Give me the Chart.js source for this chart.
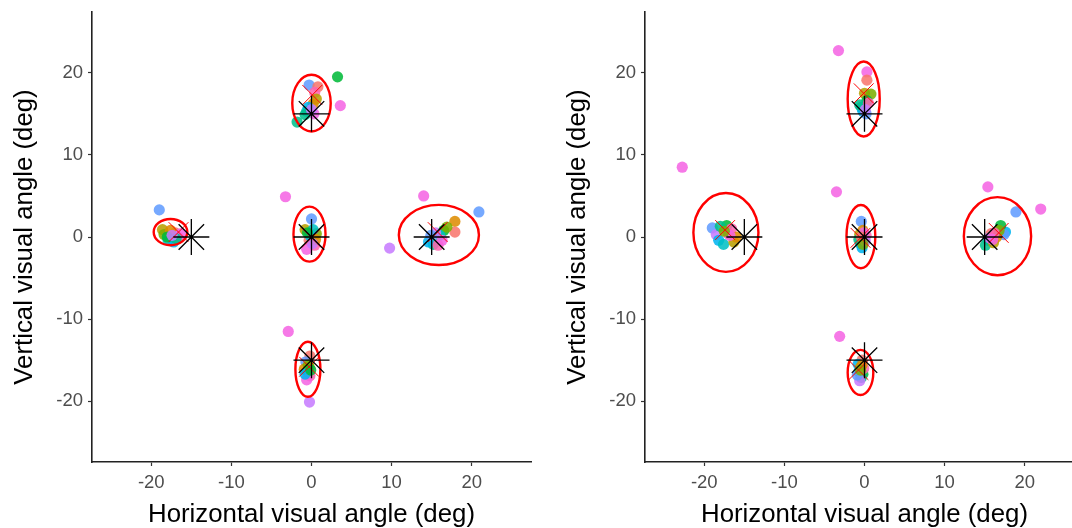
<!DOCTYPE html>
<html>
<head>
<meta charset="utf-8">
<script src="https://cdn.jsdelivr.net/npm/chart.js@4"></script>
<style>
	html, body { margin: 0; padding: 0; background: #fff; overflow: hidden; }
	#wrap { position: relative; width: 1072px; height: 528px; overflow: hidden; }
	.panel { position: absolute; top: 0; width: 540px; height: 528px; }
</style>
</head>
<body>
<div id="wrap">
	<div class="panel" style="left:0"><canvas id="left_chart" width="540" height="528"></canvas></div>
	<div class="panel" style="left:553px"><canvas id="right_chart" width="540" height="528"></canvas></div>
</div>
<script>
// participant colours (ggplot hue, 12 participants)
const palette = ['#F8766D', '#DE8C00', '#B79F00', '#7CAE00', '#00BA38', '#00C08B',
	'#00BFC4', '#00B4F0', '#619CFF', '#C77CFF', '#F564E3', '#FF64B0'];

const tickValues = [-20, -10, 0, 10, 20];

// target positions (asterisks)
const targetX = [0, -15, 0, 15, 0];
const targetY = [15, 0, 0, 0, -15];

// left panel: fixations
const leftX = [
	-18.6, -18.4, -17.9, -17.2, -17.0, -16.6, -16.3, -17.6, -18.0, -16.9, -17.4, -19.0,
	-0.3, 0.8, 0.4, 0.6, 0.2, -0.4, -0.6, 0.3, -0.8, 0.0, 3.25, 3.6, -1.8,
	0.0, -0.8, 0.6, -0.3, 0.4, -0.6, 0.2, -0.2, 0.5, -0.5, 0.1, -3.25,
	17.9, 17.9, 16.5, 16.0, 15.2, 14.6, 15.8, 16.9, 15.5, 14.9, 16.3, 14.0, 20.9, 9.75,
	-0.2, -0.7, -0.3, -0.9, -0.5, -0.2, -0.6, -0.4, -0.8, -0.1, -2.9, -0.25
];
const leftY = [
	0.9, 0.3, -0.4, -0.6, 0.5, 0.0, 0.4, 0.8, 0.0, -0.2, 0.2, 3.3,
	18.5, 18.3, 17.6, 16.8, 16.2, 15.8, 15.3, 15.0, 14.9, 15.5, 19.5, 16.0, 14.0,
	2.2, 0.9, 0.4, -0.4, -1.0, -1.5, 0.9, 0.2, -0.3, 0.5, -0.8, 4.9,
	1.9, 0.6, 0.8, 0.2, -0.9, -0.6, -1.0, 1.2, 0.5, 0.2, -0.4, 5.0, 3.05, -1.35,
	-14.5, -15.2, -15.8, -16.1, -16.4, -16.9, -17.4, -15.6, -16.7, -16.2, -11.5, -20.1
];
const leftP = [
	2, 3, 6, 7, 0, 11, 10, 1, 4, 5, 9, 8,
	8, 0, 11, 2, 1, 7, 6, 10, 5, 9, 4, 10, 5,
	8, 2, 3, 0, 11, 10, 6, 7, 1, 4, 9, 10,
	1, 0, 4, 6, 5, 7, 11, 3, 9, 8, 10, 10, 8, 9,
	0, 8, 2, 1, 6, 11, 10, 3, 7, 4, 10, 9
];

// right panel: fixations
const rightX = [
	-19.0, -18.5, -18.2, -17.6, -17.2, -17.0, -16.6, -16.3, -16.0, -18.0, -16.8, -17.5, -22.75,
	0.3, 0.3, 0.0, 0.8, 0.3, -0.4, -0.2, 0.2, -0.6, 0.5, 0.1, -3.25,
	-0.4, -0.2, -0.6, 0.0, -0.5, -0.3, 0.2, -0.7, -0.1, 0.1, -0.4, -0.2, -3.5,
	17.6, 17.0, 17.4, 15.4, 15.1, 16.1, 15.8, 16.5, 16.8, 15.6, 16.2, 16.0, 15.4, 22.0, 18.9,
	-0.3, -0.8, -0.5, -0.7, -0.2, -0.4, -0.6, -0.1, -0.9, -0.3, -0.5, -3.1
];
const rightY = [
	1.1, 0.3, -0.4, -0.9, 1.4, 0.4, 1.0, -0.6, 0.0, 1.3, 0.2, 0.7, 8.5,
	20.1, 19.1, 17.5, 17.4, 16.6, 15.8, 15.3, 15.0, 16.1, 16.3, 15.5, 22.7,
	1.9, 0.8, 0.3, -0.2, -0.8, -1.3, 0.2, -0.3, 0.5, -0.5, 0.0, -0.9, 5.5,
	0.6, 1.4, 0.3, -0.4, -1.0, -0.7, 0.4, 0.0, 0.8, -0.1, 0.5, -0.3, 6.1, 3.4, 3.05,
	-15.0, -15.5, -15.9, -16.4, -16.7, -17.1, -17.5, -16.0, -16.8, -15.6, -16.2, -12.1
];
const rightP = [
	8, 9, 7, 6, 4, 0, 11, 2, 1, 5, 10, 3, 10,
	10, 0, 2, 3, 4, 6, 7, 8, 5, 11, 9, 10,
	8, 1, 2, 4, 6, 7, 11, 5, 10, 9, 0, 3, 10,
	7, 4, 8, 6, 5, 2, 0, 1, 3, 9, 11, 10, 10, 10, 8,
	0, 7, 2, 6, 4, 5, 9, 11, 8, 1, 3, 10
];

// cluster means (red crosses)
const leftMeanX = [-16.6, 0.1, 0.0, 15.75, -0.3];
const leftMeanY = [0.6, 17.3, -0.1, 0.6, -15.8];
const rightMeanX = [-17.4, -0.1, -0.5, 16.75, -0.75];
const rightMeanY = [0.85, 17.5, -0.1, 0.5, -16.2];

// confidence ellipses: centre and semi-axes (deg)
const leftEllCx = [-17.6, 0.0, -0.25, 15.9, -0.45];
const leftEllCy = [0.6, 16.3, 0.35, 0.25, -16.1];
const leftEllRx = [2.1, 2.4, 2.0, 5.0, 1.56];
const leftEllRy = [1.6, 3.45, 3.35, 3.66, 3.35];
const rightEllCx = [-17.3, -0.1, -0.45, 16.6, -0.5];
const rightEllCy = [0.55, 16.8, 0.05, 0.1, -16.5];
const rightEllRx = [4.06, 2.0, 1.8, 4.2, 1.6];
const rightEllRy = [4.8, 4.57, 3.85, 4.75, 2.75];

const ellipsePlugin = {
	id: 'ellipses',
	afterDatasetDraw(chart, args, opts) {
		if (args.index !== 0) return;
		const { ctx, scales: { x, y } } = chart;
		ctx.save();
		ctx.strokeStyle = '#FF0000';
		ctx.lineWidth = 2.4;
		for (let i = 0; i < opts.cx.length; i++) {
			const px = x.getPixelForValue(opts.cx[i]);
			const py = y.getPixelForValue(opts.cy[i]);
			const rx = Math.abs(x.getPixelForValue(opts.cx[i] + opts.rx[i]) - px);
			const ry = Math.abs(y.getPixelForValue(opts.cy[i] + opts.ry[i]) - py);
			ctx.beginPath();
			ctx.ellipse(px, py, rx, ry, 0, 0, Math.PI * 2);
			ctx.stroke();
		}
		ctx.restore();
	}
};

function toPoints(xs, ys) {
	return xs.map((v, i) => ({ x: v, y: ys[i] }));
}

function axis(titleText, isY) {
	return {
		type: 'linear',
		min: -27.4,
		max: 27.4,
		afterBuildTicks: (s) => { s.ticks = tickValues.map(v => ({ value: v })); },
		afterFit: (s) => {
			if (isY) s.width = 92; else s.height = 66;
			// no label overhang padding, the plot box is fixed by layout padding
			s.paddingTop = 0;
			s.paddingBottom = 0;
			s.paddingLeft = 0;
			s.paddingRight = 0;
		},
		grid: { drawOnChartArea: false, drawTicks: true, tickLength: 4, tickColor: '#333', tickWidth: 1.2 },
		border: { display: true, color: '#222', width: 1.6 },
		ticks: {
			color: '#4D4D4D',
			font: { family: 'Liberation Sans', size: 18.5 },
			padding: isY ? 5 : 6,
			maxRotation: 0
		},
		title: {
			display: true,
			text: titleText,
			color: '#000',
			font: { family: 'Liberation Sans', size: 25.8, lineHeight: 1.0 },
			padding: isY ? { top: 12, bottom: 0 } : { top: 0, bottom: 0 }
		}
	};
}

function makeChart(id, xs, ys, ps, meanX, meanY, ell) {
	const ctx = document.getElementById(id);
	return new Chart(ctx, {
		type: 'scatter',
		data: {
			datasets: [{
				data: toPoints(xs, ys),
				backgroundColor: ps.map(p => palette[p] + 'DD'),
				borderWidth: 0,
				pointRadius: 5.6,
				order: 3
			}, {
				data: toPoints(meanX, meanY),
				pointStyle: 'crossRot',
				pointRadius: 14,
				borderColor: '#FF0000',
				borderWidth: 1,
				backgroundColor: 'transparent',
				order: 2
			}, {
				data: toPoints(targetX, targetY),
				pointStyle: 'star',
				pointRadius: 18,
				borderColor: '#000',
				borderWidth: 1.3,
				backgroundColor: 'transparent',
				order: 1
			}]
		},
		options: {
			responsive: false,
			animation: false,
			layout: { autoPadding: false, padding: { top: 12, right: 9, left: 0, bottom: 0 } },
			plugins: {
				legend: { display: false },
				tooltip: { enabled: false },
				ellipses: ell
			},
			scales: {
				x: axis('Horizontal visual angle (deg)', false),
				y: axis('Vertical visual angle (deg)', true)
			}
		},
		plugins: [ellipsePlugin]
	});
}

makeChart('left_chart', leftX, leftY, leftP, leftMeanX, leftMeanY,
	{ cx: leftEllCx, cy: leftEllCy, rx: leftEllRx, ry: leftEllRy });
makeChart('right_chart', rightX, rightY, rightP, rightMeanX, rightMeanY,
	{ cx: rightEllCx, cy: rightEllCy, rx: rightEllRx, ry: rightEllRy });
</script>
</body>
</html>
